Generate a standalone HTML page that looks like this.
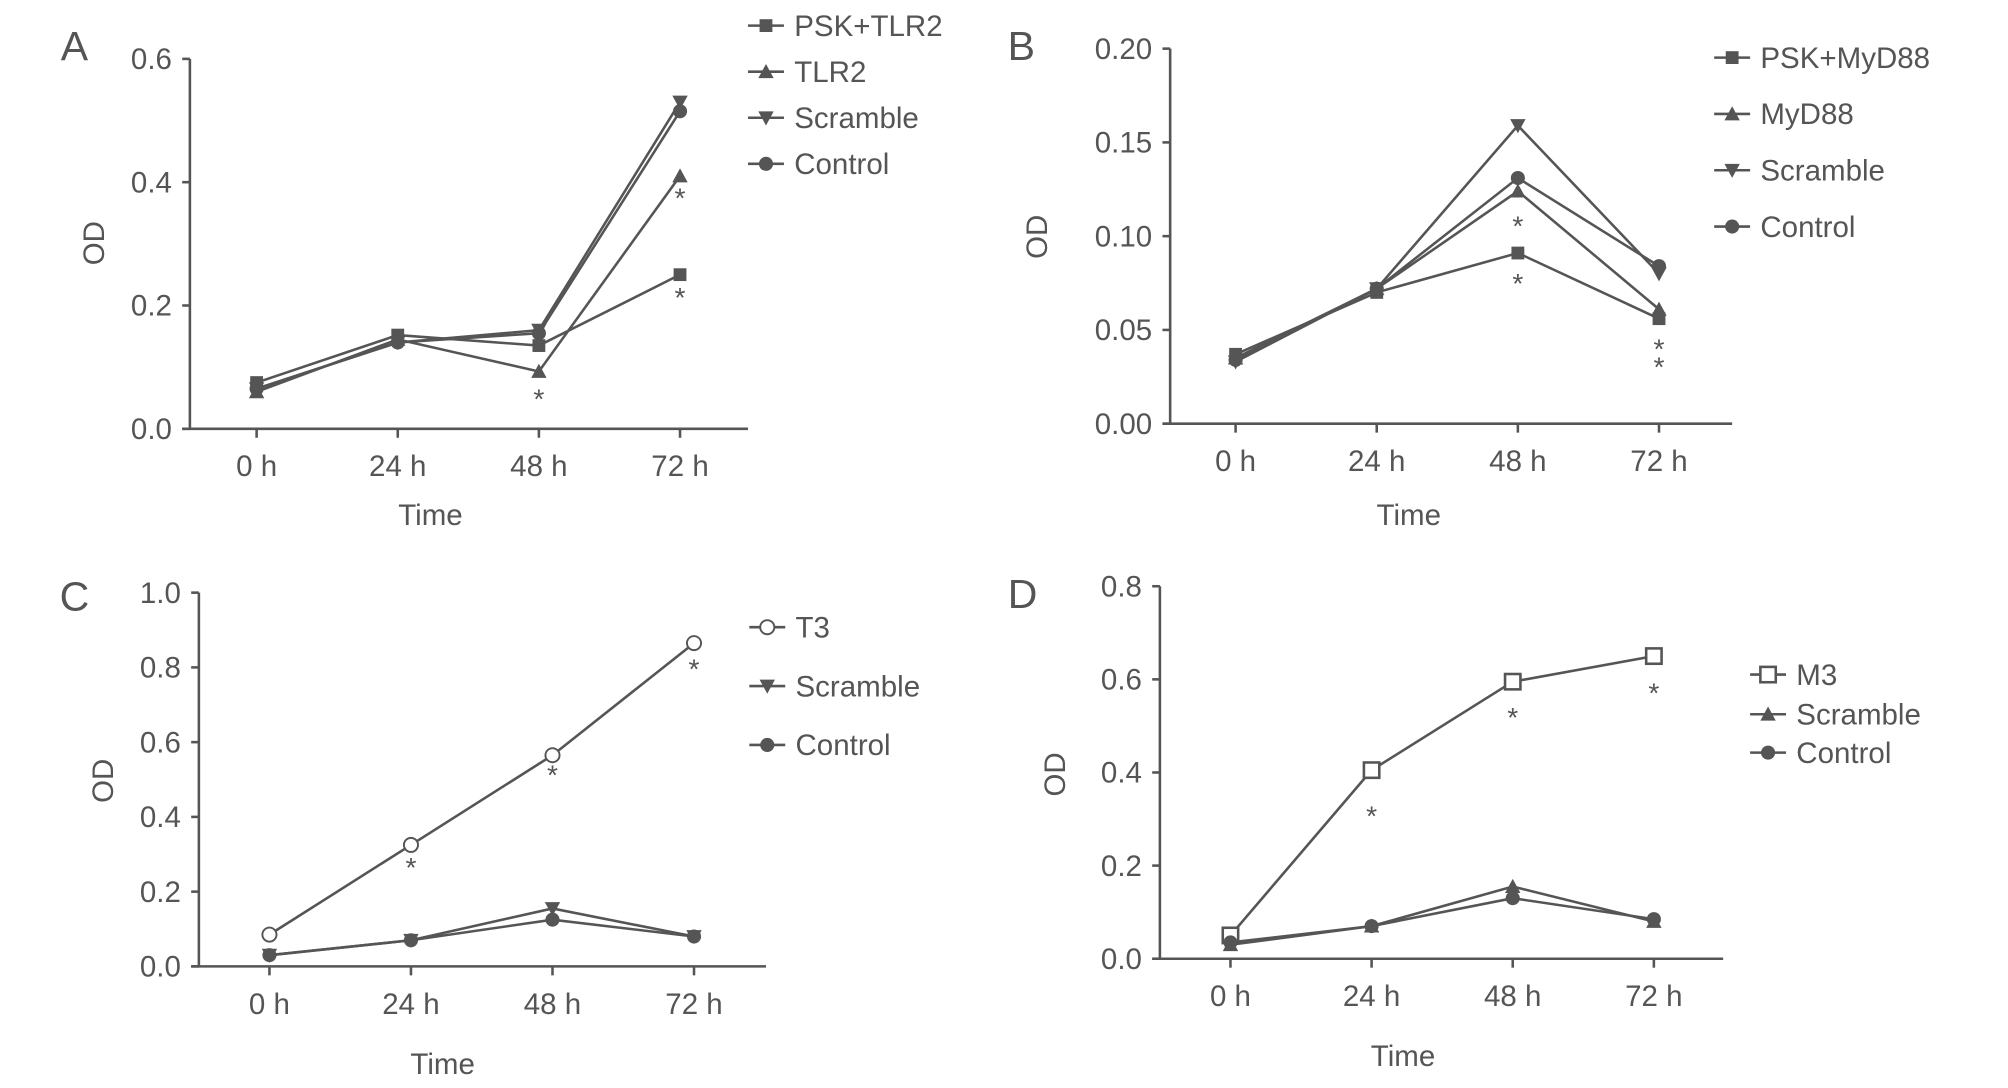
<!DOCTYPE html>
<html><head><meta charset="utf-8"><style>
html,body{margin:0;padding:0;background:#fff;}
svg{display:block;font-family:"Liberation Sans Narrow","Liberation Sans",sans-serif;}
</style></head><body>
<svg id="fig" width="2008" height="1088" viewBox="0 0 1565 850" preserveAspectRatio="none" xmlns="http://www.w3.org/2000/svg"></svg>
<script>
// categories
const timeLabels = ["0 h","24 h","48 h","72 h"];
// Panel A
const aTicks = [0.0,0.2,0.4,0.6];
const aNames = ["PSK+TLR2","TLR2","Scramble","Control"];
const aPSK = [0.075,0.152,0.135,0.25];
const aTLR2 = [0.06,0.145,0.093,0.41];
const aScr = [0.065,0.14,0.16,0.53];
const aCtl = [0.065,0.14,0.155,0.515];
// Panel B
const bTicks = [0.00,0.05,0.10,0.15,0.20];
const bNames = ["PSK+MyD88","MyD88","Scramble","Control"];
const bPSK = [0.037,0.07,0.091,0.056];
const bMyD = [0.035,0.072,0.124,0.061];
const bScr = [0.033,0.072,0.159,0.08];
const bCtl = [0.034,0.072,0.131,0.084];
// Panel C
const cTicks = [0.0,0.2,0.4,0.6,0.8,1.0];
const cNames = ["T3","Scramble","Control"];
const cT3 = [0.085,0.325,0.565,0.865];
const cScr = [0.03,0.07,0.155,0.08];
const cCtl = [0.03,0.07,0.125,0.08];
// Panel D
const dTicks = [0.0,0.2,0.4,0.6,0.8];
const dNames = ["M3","Scramble","Control"];
const dM3 = [0.05,0.405,0.595,0.65];
const dScr = [0.03,0.07,0.155,0.08];
const dCtl = [0.035,0.07,0.13,0.085];

const svg = document.getElementById('fig');
const NS = "http://www.w3.org/2000/svg";
const C = "#555";
function mk(tag, attrs, parent){const e=document.createElementNS(NS,tag);for(const k in attrs)e.setAttribute(k,attrs[k]);(parent||svg).appendChild(e);return e;}
function txt(s,x,y,size,anchor,parent){const t=mk('text',{x:x,y:y,'font-size':size,fill:C,'text-anchor':anchor||'middle'},parent);t.textContent=s;return t;}
function marker(type,x,y,g){
  let e;
  if(type==='square'){e=mk('rect',{x:x-5,y:y-5,width:10,height:10,fill:C},g);}
  else if(type==='tri'){e=mk('polygon',{points:`${x},${y-6} ${x-6},${y+5} ${x+6},${y+5}`,fill:C},g);}
  else if(type==='vtri'){e=mk('polygon',{points:`${x},${y+6} ${x-6},${y-5} ${x+6},${y-5}`,fill:C},g);}
  else if(type==='circle'){e=mk('circle',{cx:x,cy:y,r:5.5,fill:C},g);}
  else if(type==='half'){e=mk('circle',{cx:x,cy:y,r:5.5,fill:'#fff',stroke:C,'stroke-width':1.5},g);}
  else if(type==='osq'){e=mk('rect',{x:x-6,y:y-6,width:12,height:12,fill:'#fff',stroke:C,'stroke-width':2},g);}
  return e;
}
function panel(p){
  const g=mk('g',{});
  
  
  const yMax=p.ticks[p.ticks.length-1];
  const ys=v=>p.y0+(p.yTop-p.y0)*(v/yMax);
  const xs=i=>p.xStart+i*p.dx;
  const l=txt(p.id,p.labX,p.labY,32,'middle',g);
  
  
  const ya=mk('line',{x1:p.ax,y1:p.yTop,x2:p.ax,y2:p.y0,stroke:C,'stroke-width':2},g);
  
  
  const xa=mk('line',{x1:p.ax-6,y1:p.y0,x2:p.axEnd,y2:p.y0,stroke:C,'stroke-width':2},g);
  
  
  p.ticks.forEach(t=>{
    mk('line',{x1:p.ax-6,y1:ys(t),x2:p.ax,y2:ys(t),stroke:C,'stroke-width':2},g);
    const tl=txt(t.toFixed(p.dec),p.ax-14,ys(t)+8,23,'end',g);
    
    
  });
  timeLabels.forEach((s,i)=>{
    mk('line',{x1:xs(i),y1:p.y0,x2:xs(i),y2:p.y0+7,stroke:C,'stroke-width':2},g);
    const tl=txt(s,xs(i),p.y0+37,23,'middle',g);
    
    
  });
  const xt=txt('Time',(p.ax+p.axEnd)/2-p.timeOff,p.timeY,23,'middle',g);
  
  
  const yt=mk('text',{x:0,y:0,'font-size':23,fill:C,'text-anchor':'middle',transform:`translate(${p.odX},${p.odY}) rotate(-90)`},g);
  yt.textContent='OD';
  
  
  p.series.forEach((s,si)=>{
    const sg=mk('g',{},g);
    
    
    mk('polyline',{points:s.map((v,i)=>xs(i)+','+ys(v)).join(' '),fill:'none',stroke:C,'stroke-width':2},sg);
    s.forEach((v,i)=>marker(p.markers[si],xs(i),ys(v),sg));
    const lg=mk('g',{},g);
    
    
    const ly=p.legY[si];
    mk('line',{x1:p.legX-14,y1:ly,x2:p.legX+14,y2:ly,stroke:C,'stroke-width':2},lg);
    marker(p.markers[si],p.legX,ly,lg);
    txt(p.names[si],p.legX+22,ly+8,23,'start',lg);
  });
  p.stars.forEach(st=>{
    const s=txt('*',xs(st[0]),st[1]+12,22,'middle',g);
    
    
  });
}
panel({id:'A',labX:58,labY:47,ax:148,axEnd:583,yTop:46,y0:335,xStart:200,dx:110,ticks:aTicks,dec:1,
  timeOff:30,timeY:410,odX:81,odY:190,names:aNames,series:[aPSK,aTLR2,aScr,aCtl],markers:['square','tri','vtri','circle'],
  legX:597,legY:[20,56,92,128],stars:[[2,307],[3,150],[3,228]]});
panel({id:'B',labX:796,labY:47,ax:912,axEnd:1350,yTop:38,y0:331,xStart:963,dx:110,ticks:bTicks,dec:2,
  timeOff:33,timeY:410,odX:816,odY:185,names:bNames,series:[bPSK,bMyD,bScr,bCtl],markers:['square','tri','vtri','circle'],
  legX:1350,legY:[45,89,133,177],stars:[[2,172],[2,217],[3,268],[3,282]]});
panel({id:'C',labX:58,labY:477,ax:155,axEnd:597,yTop:463,y0:755,xStart:210,dx:110.3,ticks:cTicks,dec:1,
  timeOff:31,timeY:839,odX:88,odY:610,names:cNames,series:[cT3,cScr,cCtl],markers:['half','vtri','circle'],
  legX:598,legY:[490,536,582],stars:[[1,673],[2,601],[3,518]]});
panel({id:'D',labX:797,labY:475,ax:904,axEnd:1343,yTop:458,y0:749,xStart:959,dx:110,ticks:dTicks,dec:1,
  timeOff:30,timeY:833,odX:830,odY:605,names:dNames,series:[dM3,dScr,dCtl],markers:['osq','tri','circle'],
  legX:1378,legY:[527,558,588],stars:[[1,633],[2,556],[3,537]]});
</script>
</body></html>
